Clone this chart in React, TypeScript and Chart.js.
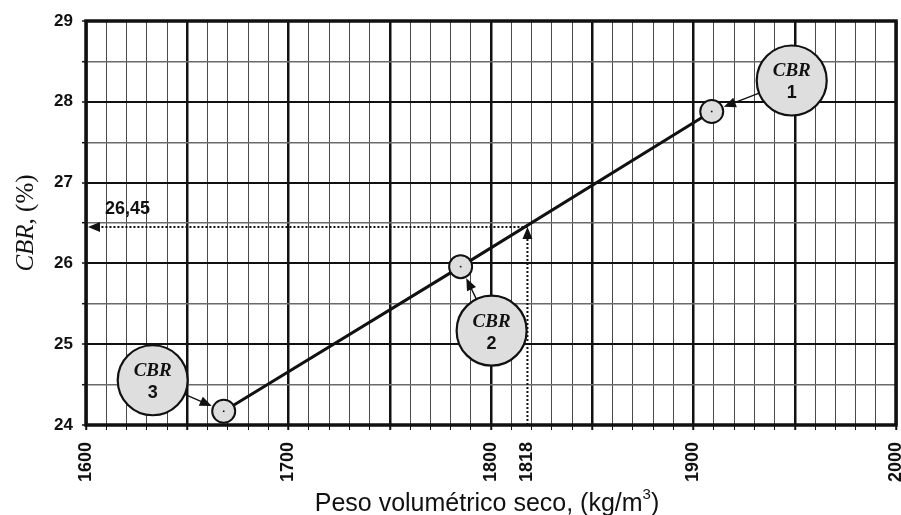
import { useEffect, useRef } from 'react';
import { Chart, registerables } from 'chart.js';

Chart.register(...registerables);

// Compaction results: dry unit weight vs. CBR for the three specimens
const densities = [1668, 1785, 1909];
const cbrValues = [24.17, 25.96, 27.88];
const specimenNumbers = ['3', '2', '1'];

// Labelled ticks
const xLabelTicks = [1600, 1700, 1800, 1818, 1900, 2000];
const yLabelTicks = [24, 25, 26, 27, 28, 29];

// Design reading
const designDensity = 1818;
const designCbr = 26.45;
const designCbrText = '26,45';

const X_MIN = 1600;
const X_MAX = 2000;
const Y_MIN = 24;
const Y_MAX = 29;

// Pixel offsets of the callout bubbles from their specimen markers
const calloutOffsets: [number, number][] = [
  [-71, -31],
  [31, 64],
  [80, -31],
];

const INK = '#111';
const FILL = '#dedede';

function arrowHead(ctx: CanvasRenderingContext2D, tx: number, ty: number, angle: number, len: number, half: number) {
  ctx.save();
  ctx.translate(tx, ty);
  ctx.rotate(angle);
  ctx.beginPath();
  ctx.moveTo(0, 0);
  ctx.lineTo(-len, -half);
  ctx.lineTo(-len, half);
  ctx.closePath();
  ctx.fillStyle = INK;
  ctx.fill();
  ctx.restore();
}

const framePlugin = {
  id: 'frameAndGuides',
  beforeDatasetsDraw(chart: any) {
    const { ctx, chartArea, scales } = chart;
    const x = scales.x;
    const y = scales.y;
    const px = x.getPixelForValue(designDensity);
    const py = y.getPixelForValue(designCbr);

    // dotted guides for the design reading
    ctx.save();
    ctx.strokeStyle = INK;
    ctx.lineWidth = 2;
    ctx.setLineDash([2, 2]);
    ctx.beginPath();
    ctx.moveTo(px, py);
    ctx.lineTo(chartArea.left + 10, py);
    ctx.moveTo(px, chartArea.bottom);
    ctx.lineTo(px, py + 10);
    ctx.stroke();
    ctx.setLineDash([]);
    arrowHead(ctx, chartArea.left + 2, py, Math.PI, 12, 5);
    arrowHead(ctx, px, py, -Math.PI / 2, 12, 5);
    ctx.restore();

    // heavy frame
    ctx.save();
    ctx.strokeStyle = INK;
    ctx.lineWidth = 3.5;
    ctx.strokeRect(chartArea.left, chartArea.top, chartArea.right - chartArea.left, chartArea.bottom - chartArea.top);
    ctx.restore();
  },
  afterDatasetsDraw(chart: any) {
    const { ctx, chartArea, scales } = chart;
    const y = scales.y;
    const meta = chart.getDatasetMeta(0);

    meta.data.forEach((pt: any, i: number) => {
      const cx = pt.x;
      const cy = pt.y;
      // centre dot
      ctx.fillStyle = INK;
      ctx.fillRect(cx - 0.8, cy - 0.8, 1.6, 1.6);

      const [ox, oy] = calloutOffsets[i];
      const bx = cx + ox;
      const by = cy + oy;
      const R = 35;
      const r = 12;
      const d = Math.hypot(cx - bx, cy - by);
      const ux = (cx - bx) / d;
      const uy = (cy - by) / d;
      const sx = bx + ux * R;
      const sy = by + uy * R;
      const tx = cx - ux * (r + 1);
      const ty = cy - uy * (r + 1);
      const ang = Math.atan2(uy, ux);

      ctx.save();
      ctx.strokeStyle = INK;
      ctx.lineWidth = 1.4;
      ctx.beginPath();
      ctx.moveTo(sx, sy);
      ctx.lineTo(tx - ux * 8, ty - uy * 8);
      ctx.stroke();
      arrowHead(ctx, tx, ty, ang, 12, 5);

      ctx.beginPath();
      ctx.arc(bx, by, R, 0, Math.PI * 2);
      ctx.fillStyle = FILL;
      ctx.fill();
      ctx.lineWidth = 2.2;
      ctx.stroke();

      ctx.fillStyle = INK;
      ctx.textAlign = 'center';
      ctx.textBaseline = 'middle';
      ctx.font = 'italic bold 19px "Liberation Serif", "DejaVu Serif", serif';
      ctx.fillText('CBR', bx, by - 9);
      ctx.font = 'bold 18px "Liberation Sans", Arial, sans-serif';
      ctx.fillText(specimenNumbers[i], bx, by + 13);
      ctx.restore();
    });

    // design value label
    ctx.save();
    ctx.fillStyle = INK;
    ctx.font = 'bold 18px "Liberation Sans", Arial, sans-serif';
    ctx.textAlign = 'left';
    ctx.textBaseline = 'alphabetic';
    ctx.fillText(designCbrText, chartArea.left + 19, y.getPixelForValue(designCbr) - 13);
    ctx.restore();
  },
  afterDraw(chart: any) {
    const { ctx, chartArea } = chart;
    ctx.save();
    ctx.fillStyle = INK;

    // y-axis title: "CBR, (%)" with CBR in italics
    const cy = (chartArea.top + chartArea.bottom) / 2;
    ctx.translate(26, cy);
    ctx.rotate(-Math.PI / 2);
    ctx.textBaseline = 'middle';
    const italic = 'italic 25px "Liberation Serif", "DejaVu Serif", serif';
    const roman = '25px "Liberation Serif", "DejaVu Serif", serif';
    ctx.font = italic;
    const w1 = ctx.measureText('CBR').width;
    ctx.font = roman;
    const w2 = ctx.measureText(', (%)').width;
    let sx = -(w1 + w2) / 2;
    ctx.textAlign = 'left';
    ctx.font = italic;
    ctx.fillText('CBR', sx, 0);
    sx += w1;
    ctx.font = roman;
    ctx.fillText(', (%)', sx, 0);
    ctx.restore();

    // x-axis title with superscript
    ctx.save();
    ctx.fillStyle = INK;
    const main = '25px "Liberation Sans", Arial, sans-serif';
    const sup = '15px "Liberation Sans", Arial, sans-serif';
    const a = 'Peso volumétrico seco, (kg/m';
    const b = '3';
    const c = ')';
    ctx.font = main;
    const wa = ctx.measureText(a).width;
    const wc = ctx.measureText(c).width;
    ctx.font = sup;
    const wb = ctx.measureText(b).width;
    const total = wa + wb + wc;
    let tx = (chartArea.left + chartArea.right) / 2 - 4 - total / 2;
    const base = 511;
    ctx.textAlign = 'left';
    ctx.textBaseline = 'alphabetic';
    ctx.font = main;
    ctx.fillText(a, tx, base);
    tx += wa;
    ctx.font = sup;
    ctx.fillText(b, tx, base - 12);
    tx += wb;
    ctx.font = main;
    ctx.fillText(c, tx, base);
    ctx.restore();
  },
};

export default function App() {
  const ref = useRef<HTMLCanvasElement | null>(null);

  useEffect(() => {
    if (!ref.current) return;
    const chart = new Chart(ref.current, {
      type: 'line',
      data: {
        datasets: [
          {
            data: densities.map((d, i) => ({ x: d, y: cbrValues[i] })),
            borderColor: INK,
            borderWidth: 3,
            pointRadius: 11.5,
            pointBackgroundColor: FILL,
            pointBorderColor: INK,
            pointBorderWidth: 2,
            tension: 0,
          },
        ],
      },
      plugins: [framePlugin],
      options: {
        responsive: false,
        animation: false,
        events: [],
        layout: { autoPadding: false, padding: { left: 0, right: 5, top: 21, bottom: 0 } },
        plugins: { legend: { display: false }, tooltip: { enabled: false } },
        scales: {
          x: {
            type: 'linear',
            min: X_MIN,
            max: X_MAX,
            afterBuildTicks(scale: any) {
              const vals: number[] = [];
              for (let v = X_MIN; v <= X_MAX; v += 10) vals.push(v);
              xLabelTicks.forEach((v) => {
                if (!vals.includes(v)) vals.push(v);
              });
              vals.sort((p, q) => p - q);
              scale.ticks = vals.map((v) => ({ value: v }));
            },
            afterFit(scale: any) {
              scale.height = 90;
              scale.paddingLeft = 0;
              scale.paddingRight = 0;
            },
            border: { display: false },
            grid: {
              drawTicks: true,
              tickLength: 5,
              lineWidth: (c: any) => {
                const v = c.tick?.value;
                if (v === undefined || v % 10 !== 0) return 0;
                return v % 50 === 0 ? 2.5 : 1;
              },
              tickWidth: (c: any) => {
                const v = c.tick?.value;
                if (v === undefined || v % 10 !== 0) return 0;
                return v % 50 === 0 ? 2 : 1;
              },
              color: (c: any) => {
                const v = c.tick?.value;
                return v % 50 === 0 ? INK : '#4a4a4a';
              },
              tickColor: INK,
            },
            ticks: {
              autoSkip: false,
              maxRotation: 90,
              minRotation: 90,
              padding: 12,
              color: INK,
              font: { family: '"Liberation Sans", Arial, sans-serif', size: 18, weight: 'bold' },
              callback: (v: any) => (xLabelTicks.includes(Number(v)) ? String(v) : ''),
            },
          },
          y: {
            type: 'linear',
            min: Y_MIN,
            max: Y_MAX,
            afterFit(scale: any) {
              scale.width = 86;
              scale.paddingTop = 0;
              scale.paddingBottom = 0;
            },
            border: { display: false },
            grid: {
              drawTicks: true,
              tickLength: 4,
              lineWidth: (c: any) => (Number.isInteger(c.tick?.value) ? 2 : 1.4),
              tickWidth: 1.5,
              color: (c: any) => (Number.isInteger(c.tick?.value) ? INK : '#6a6a6a'),
              tickColor: INK,
            },
            ticks: {
              stepSize: 0.5,
              autoSkip: false,
              padding: 9,
              color: INK,
              font: { family: '"Liberation Sans", Arial, sans-serif', size: 17, weight: 'bold' },
              callback: (v: any) => (yLabelTicks.includes(Number(v)) ? String(v) : ''),
            },
          },
        },
      },
    } as any);
    return () => chart.destroy();
  }, []);

  return (
    <div style={{ position: 'fixed', left: 0, top: 0, width: 901, height: 515, background: '#fff' }}>
      <canvas ref={ref} width={901} height={515} style={{ display: 'block' }} />
    </div>
  );
}
